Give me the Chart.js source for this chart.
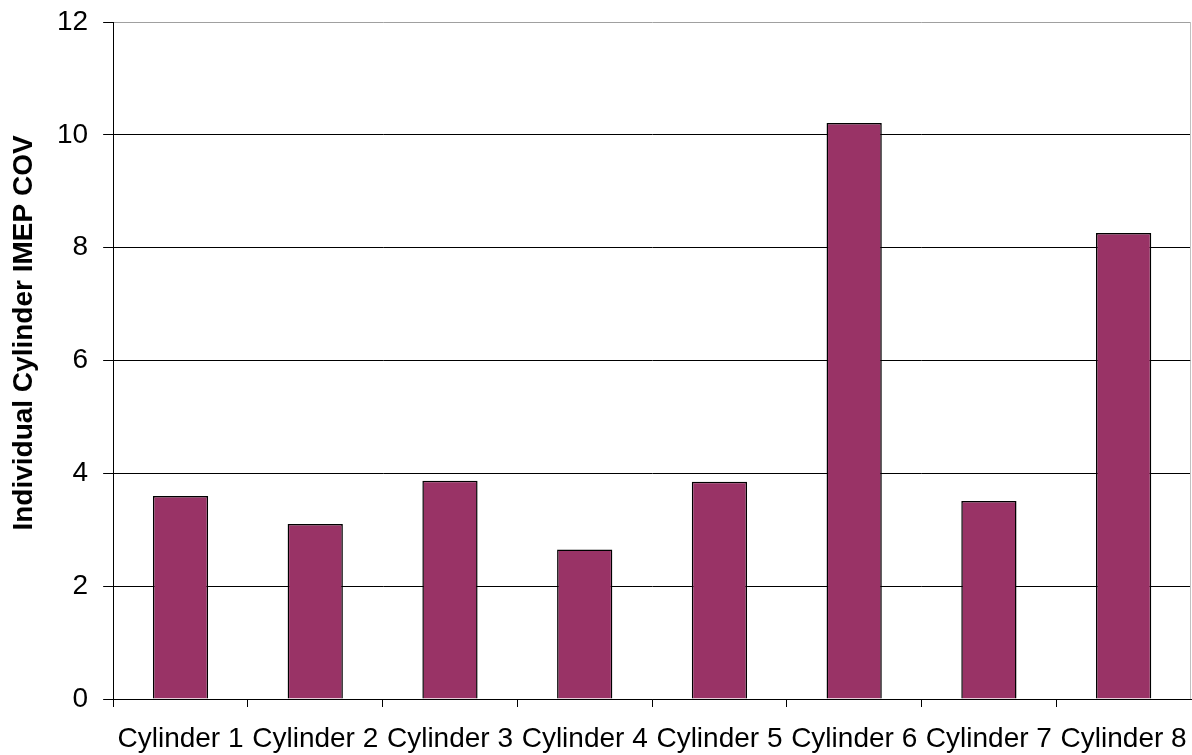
<!DOCTYPE html>
<html>
<head>
<meta charset="utf-8">
<script src="https://cdn.jsdelivr.net/npm/chart.js@4"></script>
<style>
  html, body { margin: 0; padding: 0; background: #fff; }
  canvas { display: block; }
</style>
</head>
<body>
<canvas id="cov" width="1192" height="755"></canvas>
<script>
const cylinders = ["Cylinder 1", "Cylinder 2", "Cylinder 3", "Cylinder 4",
                   "Cylinder 5", "Cylinder 6", "Cylinder 7", "Cylinder 8"];
const imepCov = [3.6, 3.1, 3.87, 2.65, 3.85, 10.21, 3.51, 8.26];
const yTicks = [0, 2, 4, 6, 8, 10, 12];
const yTitle = "Individual Cylinder IMEP COV";

// light grey right edge + rotated y title (sits a bit above the axis middle)
const extras = {
  id: "extras",
  afterDraw(chart) {
    const { ctx, chartArea } = chart;
    ctx.save();
    ctx.strokeStyle = "#c0c0c0";
    ctx.lineWidth = 1;
    ctx.beginPath();
    ctx.moveTo(chartArea.right - 0.5, chartArea.top);
    ctx.lineTo(chartArea.right - 0.5, chartArea.bottom);
    ctx.stroke();

    ctx.translate(24, 333);
    ctx.rotate(-Math.PI / 2);
    ctx.fillStyle = "#000";
    ctx.font = "bold 28px 'Liberation Sans'";
    ctx.textAlign = "center";
    ctx.textBaseline = "middle";
    ctx.fillText(yTitle, 0, 0);
    ctx.restore();
  }
};

// labels fit without the automatic edge padding
const noEdgePad = (axis) => {
  axis.paddingLeft = 0;
  axis.paddingRight = 0;
  axis.paddingTop = 0;
  axis.paddingBottom = 0;
};

new Chart(document.getElementById("cov"), {
  type: "bar",
  data: {
    labels: cylinders,
    datasets: [{
      data: imepCov,
      backgroundColor: "#993366",
      borderColor: "#000",
      borderWidth: 1.5,
      barPercentage: 0.41,
      categoryPercentage: 1
    }]
  },
  options: {
    responsive: false,
    animation: false,
    layout: { padding: { top: 22, right: 1, left: 42, bottom: 0 } },
    plugins: { legend: { display: false }, tooltip: { enabled: false } },
    scales: {
      x: {
        offset: true,
        afterFit: (axis) => { noEdgePad(axis); axis.height = 56; },
        grid: {
          offset: true,
          drawOnChartArea: false,
          tickLength: 8,
          // no tick mark at the far right edge
          tickColor: (c) => (c.tick ? "#000" : "rgba(0,0,0,0)")
        },
        border: { color: "#000", width: 1 },
        ticks: {
          color: "#000",
          padding: 15,
          maxRotation: 0,
          autoSkip: false,
          font: { family: "Liberation Sans", size: 28 }
        }
      },
      y: {
        min: 0,
        max: 12,
        afterFit: noEdgePad,
        afterBuildTicks: (axis) => { axis.ticks = yTicks.map((v) => ({ value: v })); },
        grid: {
          color: (c) => (c.tick && c.tick.value === 12 ? "#a0a0a0" : "#000"),
          tickColor: "#000",
          tickLength: 10
        },
        border: { color: "#000", width: 1 },
        ticks: {
          color: "#000",
          padding: 15,
          font: { family: "Liberation Sans", size: 28 }
        }
      }
    }
  },
  plugins: [extras]
});
</script>
</body>
</html>
